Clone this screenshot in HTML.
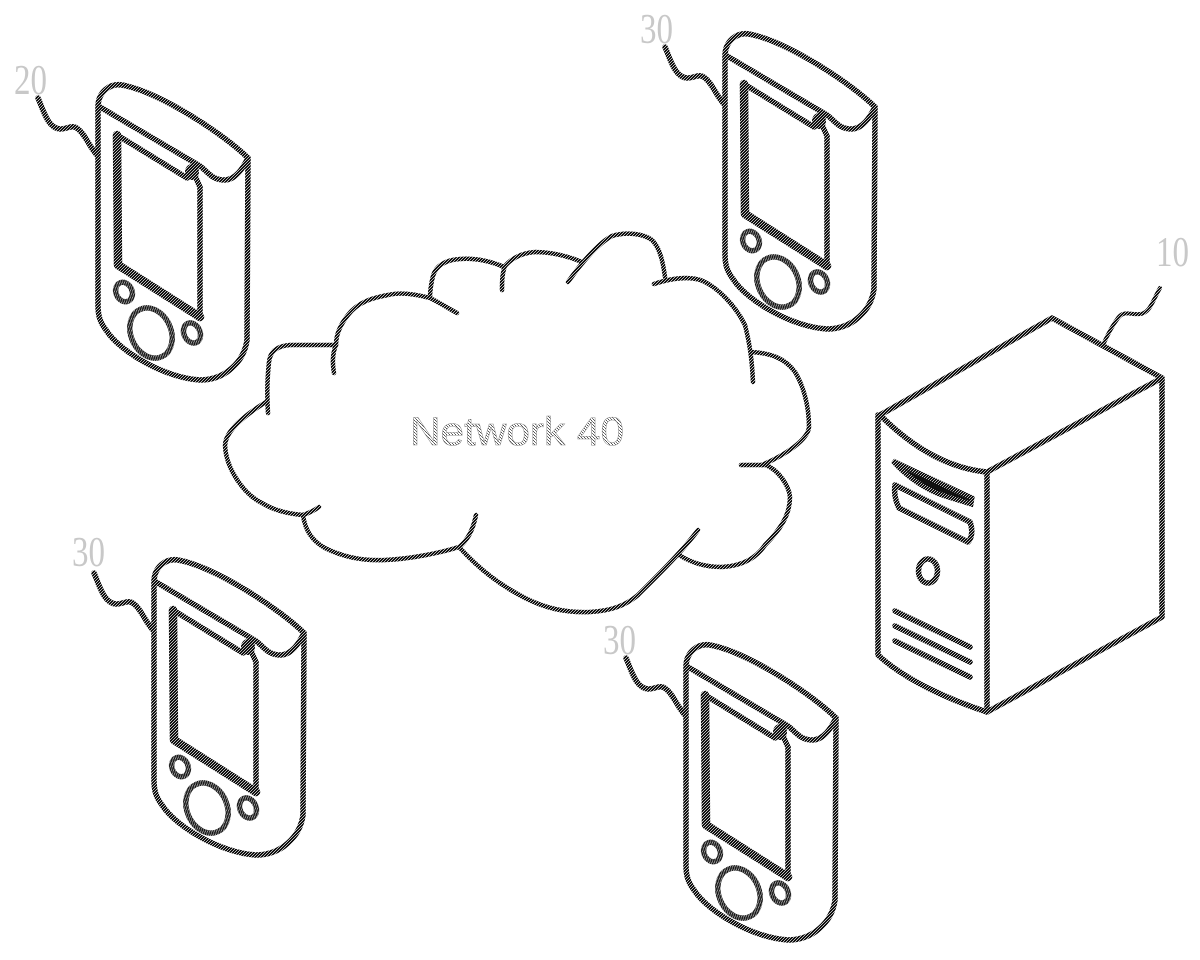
<!DOCTYPE html>
<html>
<head>
<meta charset="utf-8">
<style>
html,body{margin:0;padding:0;background:#fff;width:1200px;height:960px;overflow:hidden}
svg{display:block}
</style>
</head>
<body>
<svg width="1200" height="960" viewBox="0 0 1200 960" xmlns="http://www.w3.org/2000/svg">
<defs>
<pattern id="d" width="3" height="3" patternUnits="userSpaceOnUse">
<rect width="3" height="3" fill="#111"/>
<rect x="0" y="0" width="1" height="1" fill="#bbb"/>
<rect x="1" y="2" width="1" height="1" fill="#bbb"/>
<rect x="2" y="1" width="1" height="1" fill="#bbb"/>
</pattern>
<pattern id="l" width="3" height="3" patternUnits="userSpaceOnUse">
<rect width="3" height="3" fill="#fff"/>
<rect x="0" y="0" width="1" height="1" fill="#555"/>
<rect x="1" y="1" width="1" height="1" fill="#777"/>
<rect x="2" y="2" width="1" height="1" fill="#555"/>
</pattern>
<g id="phone" fill="none" stroke="url(#d)" stroke-width="5.5" stroke-linecap="round" stroke-linejoin="round">
<path d="M38 98 C44 112 48 128 60 129 C68 129 72 124 78 129 C85 134 90 148 97 155"/>
<path d="M98 107 C98 92 110 83 122 85 C160 92 225 135 248 158 L247 340 C244 362 225 380 200 380 C165 378 120 352 106 330 C100 322 98 316 98 305 Z"/>
<path d="M100 107 L200 166 C208 172 212 180 224 180 C236 180 243 168 248 158"/>
<path d="M117 135 L187 178 M200 187 L200 317 L118 265 L117 135" />
<path d="M195 176 L200 187"/>
<path d="M117 135 L118 265 L200 317" stroke-width="8.5"/>
<ellipse cx="192" cy="172" rx="5" ry="6" fill="url(#d)" stroke-width="4"/>
<ellipse cx="124" cy="292" rx="8" ry="10" transform="rotate(-25 124 292)"/>
<ellipse cx="192" cy="333" rx="8" ry="10.5" transform="rotate(-25 192 333)"/>
<ellipse cx="151" cy="333" rx="20" ry="26" transform="rotate(-25 151 333)"/>
</g>
</defs>

<use href="#phone"/>
<use href="#phone" x="627" y="-51"/>
<use href="#phone" x="56" y="475"/>
<use href="#phone" x="588" y="560"/>

<!-- cloud -->
<g fill="none" stroke="url(#d)" stroke-width="4.5" stroke-linecap="round" stroke-linejoin="round">
<path d="M334 373 C332 362 333 352 336 345 L290 345 C276 346 270 352 269 362 C267 380 267 398 268 413"/>
<path d="M266 402 C245 415 226 430 225 445 C226 470 245 495 262 503 C275 511 290 514 303 515 C309 513 315 510 319 507"/>
<path d="M303 515 C305 530 312 541 325 548 C345 558 365 561 385 560 C410 559 440 553 459 547 C467 541 473 530 476 515"/>
<path d="M459 547 C480 570 500 585 525 598 C545 608 565 613 590 612 C610 611 625 606 638 595 C655 578 682 552 698 530"/>
<path d="M679 555 C692 563 705 567 722 567 C740 566 755 560 765 545 C780 530 790 515 790 497 C789 485 778 470 766 465 L741 465"/>
<path d="M762 465 C785 455 808 440 809 427 C809 405 803 385 795 372 C785 358 770 353 751 352"/>
<path d="M753 382 C752 360 750 345 745 325 C735 305 718 288 703 281 C690 276 672 278 654 284"/>
<path d="M665 277 C663 262 660 248 652 240 C642 233 625 232 612 236 C597 244 580 265 568 282"/>
<path d="M582 262 C565 255 550 252 535 252 C522 253 512 258 505 266 C502 274 502 282 502 290"/>
<path d="M504 267 C490 261 475 258 460 259 C445 260 436 266 433 276 C431 284 430 290 430 298 C438 302 448 308 457 313"/>
<path d="M430 298 C415 294 400 292 388 295 C372 298 358 302 348 315 C340 325 336 335 336 345"/>
</g>

<!-- server -->
<g fill="none" stroke="url(#d)" stroke-width="5.5" stroke-linecap="round" stroke-linejoin="round">
<path d="M880 415 L1052 318 L1162 378 L1162 617 L987 712 C950 700 905 680 878 655 L878 415"/>
<path d="M880 415 C910 445 945 468 987 472 L1162 378"/>
<path d="M987 472 L987 712"/>
<path d="M1160 288 C1152 302 1150 313 1140 314 C1130 315 1124 310 1118 318 C1112 326 1107 336 1103 345" stroke-width="4"/>
<path d="M895 485 L970 522 C973 530 972 538 968 542 L899 508 C895 500 894 492 895 485 Z"/>
<path d="M895 611 L970 647 M895 626 L970 662 M895 641 L970 677"/>
<ellipse cx="928" cy="571" rx="9.5" ry="12"/>
</g>
<path d="M893 461 L972 498 L971 504 L945 496 C925 490 905 475 893 461 Z" fill="#111" stroke="url(#d)" stroke-width="5"/>

<!-- labels -->
<text x="410" y="445" font-family="'Liberation Sans',sans-serif" font-size="40" textLength="214" lengthAdjust="spacingAndGlyphs" fill="url(#l)" stroke="#888" stroke-width="0.5">Network 40</text>
<g font-family="'Liberation Serif',serif" font-size="42" fill="#c8c8c8">
<text x="14" y="94" textLength="33" lengthAdjust="spacingAndGlyphs">20</text>
<text x="640" y="43" textLength="33" lengthAdjust="spacingAndGlyphs">30</text>
<text x="72" y="566" textLength="33" lengthAdjust="spacingAndGlyphs">30</text>
<text x="603" y="654" textLength="33" lengthAdjust="spacingAndGlyphs">30</text>
<text x="1156" y="266" textLength="33" lengthAdjust="spacingAndGlyphs">10</text>
</g>
</svg>
</body>
</html>
